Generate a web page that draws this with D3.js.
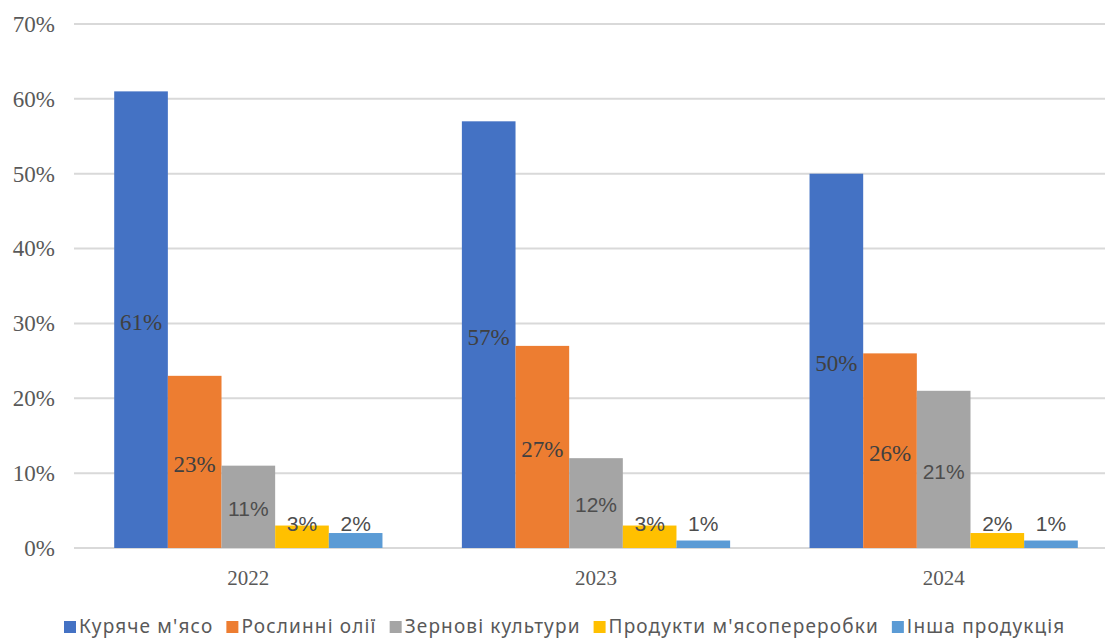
<!DOCTYPE html>
<html>
<head>
<meta charset="utf-8">
<script src="https://cdn.jsdelivr.net/npm/d3@7"></script>
<style>
  body { margin: 0; background: #fff; }
  svg { display: block; }
</style>
</head>
<body>
<svg class="chart"></svg>
<script>
const years = ['2022', '2023', '2024'];
const series = ['Куряче м\'ясо', 'Рослинні олії', 'Зернові культури', 'Продукти м\'ясопереробки', 'Інша продукція'];
const colors = ['#4472C4', '#ED7D31', '#A5A5A5', '#FFC000', '#5B9BD5'];
// shares in %, one array per series, in order of years
const chicken = [61, 57, 50];
const oils = [23, 27, 26];
const grain = [11, 12, 21];
const meatProducts = [3, 3, 2];
const other = [2, 1, 1];
const yTicks = [0, 10, 20, 30, 40, 50, 60, 70];

const values = [chicken, oils, grain, meatProducts, other];

const width = 1105;
const height = 639;

const chart = d3.select('.chart')
  .attr('width', width)
  .attr('height', height);

const x0 = d3.scaleBand()
  .domain(years)
  .range([74.5, 1117.5]);

const x1 = d3.scaleBand()
  .domain(series)
  .range([0, x0.bandwidth()])
  .paddingInner(0)
  .paddingOuter(0.74);

const y = d3.scaleLinear()
  .domain([0, 70])
  .range([548, 24]);

// gridlines
chart.append('g')
  .selectAll('line')
  .data(yTicks)
  .join('line')
  .attr('x1', 74)
  .attr('x2', width)
  .attr('y1', d => y(d))
  .attr('y2', d => y(d))
  .attr('stroke', '#d9d9d9')
  .attr('stroke-width', 2);

// y axis labels
const yAxis = d3.axisLeft(y)
  .tickValues(yTicks)
  .tickFormat(d => d + '%')
  .tickSize(0)
  .tickPadding(0);

const gy = chart.append('g')
  .attr('transform', 'translate(55,0)')
  .call(yAxis);
gy.select('.domain').remove();
gy.selectAll('text')
  .attr('fill', '#595959')
  .attr('font-family', 'Liberation Serif, Times New Roman, serif')
  .attr('font-size', 23);

// bars
const groups = chart.append('g')
  .selectAll('g')
  .data(years)
  .join('g')
  .attr('transform', d => 'translate(' + x0(d) + ',0)');

const cells = groups.selectAll('g.cell')
  .data((d, i) => series.map((s, j) => ({ series: s, idx: j, value: values[j][i] })))
  .join('g')
  .attr('class', 'cell');

cells.append('rect')
  .attr('x', d => x1(d.series))
  .attr('y', d => y(d.value))
  .attr('width', x1.bandwidth())
  .attr('height', d => y(0) - y(d.value))
  .attr('fill', d => colors[d.idx]);

// data labels
cells.append('text')
  .attr('x', d => x1(d.series) + x1.bandwidth() / 2)
  .attr('y', d => Math.min((y(d.value) + y(0)) / 2 + 2, y(0) - 24))
  .attr('dy', '0.35em')
  .attr('text-anchor', 'middle')
  .attr('fill', d => d.idx < 2 ? '#404040' : '#4d4d4d')
  .attr('font-family', d => d.idx < 2 ? 'Liberation Serif, Times New Roman, serif' : 'Liberation Sans, Arial, sans-serif')
  .attr('font-size', d => d.idx < 2 ? 23 : 21)
  .text(d => d.value + '%');

// x axis labels
const xAxis = d3.axisBottom(x0).tickSize(0).tickPadding(0);
const gx = chart.append('g')
  .attr('transform', 'translate(0,570)')
  .call(xAxis);
gx.select('.domain').remove();
gx.selectAll('text')
  .attr('fill', '#595959')
  .attr('font-family', 'Liberation Serif, Times New Roman, serif')
  .attr('font-size', 21);

// legend
const legend = chart.append('g')
  .attr('transform', 'translate(0,626)');

let lx = 64;
series.forEach((s, i) => {
  const item = legend.append('g').attr('transform', 'translate(' + lx + ',0)');
  item.append('rect')
    .attr('x', 0)
    .attr('y', -5)
    .attr('width', 12)
    .attr('height', 12)
    .attr('fill', colors[i]);
  const t = item.append('text')
    .attr('x', 15)
    .attr('dy', '0.35em')
    .attr('fill', '#595959')
    .attr('font-family', 'Noto Sans, sans-serif')
    .attr('font-size', 19)
    .attr('letter-spacing', 1.15)
    .text(s);
  lx += 15 + t.node().getComputedTextLength() + 13;
});
</script>
</body>
</html>
